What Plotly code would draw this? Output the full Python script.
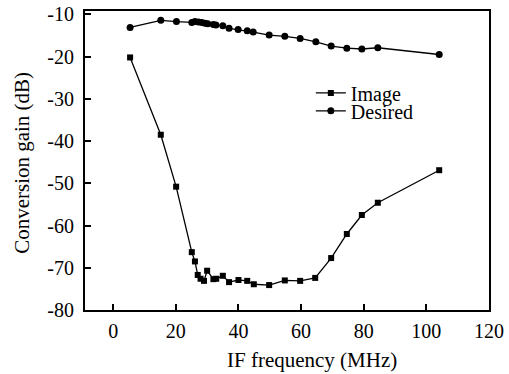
import plotly.graph_objects as go

# Data
image_freq = [5.4, 15.2, 20.1, 25.1, 26.1, 27.0, 27.9, 29.0, 30.0, 32.0, 32.9, 35.0, 37.0,
              40.0, 42.8, 44.9, 49.8, 54.8, 59.7, 64.5, 69.6, 74.6, 79.4, 84.5, 104.1]
image_gain = [-20.2, -38.5, -50.8, -66.3, -68.5, -71.7, -72.6, -73.1, -70.7, -72.7, -72.6, -71.9, -73.4,
              -72.9, -73.1, -73.9, -74.1, -73.0, -73.1, -72.4, -67.7, -62.0, -57.5, -54.6, -46.9]

desired_freq = [5.4, 15.2, 20.2, 25.1, 26.1, 27.2, 28.3, 29.3, 30.2, 32.0, 32.8, 35.0, 37.0,
                39.9, 42.8, 44.7, 49.8, 54.8, 59.7, 64.7, 69.6, 74.6, 79.4, 84.5, 104.1]
desired_gain = [-13.1, -11.4, -11.7, -11.9, -11.7, -11.8, -11.9, -12.1, -12.2, -12.4, -12.5, -12.7, -13.3,
                -13.6, -13.9, -14.2, -14.9, -15.2, -15.7, -16.5, -17.5, -18.0, -18.2, -17.9, -19.5]

x_ticks = [0, 20, 40, 60, 80, 100, 120]
y_ticks = [-80, -70, -60, -50, -40, -30, -20, -10]

FONT = "Liberation Serif"

fig = go.Figure()
fig.add_trace(go.Scatter(
    x=image_freq, y=image_gain, name="Image", mode="lines+markers",
    line=dict(color="black", width=1.3),
    marker=dict(symbol="square", size=6, color="black"),
    legend="legend",
))
fig.add_trace(go.Scatter(
    x=desired_freq, y=desired_gain, name="Desired", mode="lines+markers",
    line=dict(color="black", width=1.3),
    marker=dict(symbol="circle", size=7, color="black"),
    legend="legend2",
))

legend_common = dict(
    font=dict(family=FONT, size=20, color="black"),
    bgcolor="rgba(0,0,0,0)", borderwidth=0,
    xanchor="left", yanchor="middle",
)

axis_common = dict(
    showgrid=False, zeroline=False, automargin=False,
    showline=True, linecolor="black", linewidth=2, mirror=True,
    ticks="inside", ticklen=6, tickwidth=1.5, tickcolor="black",
    ticklabeloverflow="allow",
    tickfont=dict(family=FONT, size=20, color="black"),
)

fig.update_layout(
    width=509, height=374,
    margin=dict(l=85, r=20, t=11, b=64, autoexpand=False),
    paper_bgcolor="white", plot_bgcolor="white",
    font=dict(family=FONT, size=20, color="black"),
    showlegend=True,
    legend=dict(x=0.559, y=0.726, **legend_common),
    legend2=dict(x=0.559, y=0.666, **legend_common),
    xaxis=dict(range=[-9, 120], tickvals=x_ticks, ticktext=[str(v) for v in x_ticks],
               ticklabelstandoff=2, **axis_common),
    yaxis=dict(range=[-80, -9.2], tickvals=y_ticks, ticktext=[str(v) for v in y_ticks],
               ticklabelstandoff=5, **axis_common),
    annotations=[
        dict(text="IF frequency (MHz)", xref="paper", yref="paper",
             x=0.562, y=-0.168, xanchor="center", yanchor="middle",
             showarrow=False, font=dict(family=FONT, size=21, color="black")),
        dict(text="Conversion gain (dB)", xref="paper", yref="paper",
             x=-0.156, y=0.492, xanchor="center", yanchor="middle", textangle=-90,
             showarrow=False, font=dict(family=FONT, size=21, color="black")),
    ],
)

# remove the default 8px page margin so the figure fills the window exactly
fig.write_html("out.html", config={"displayModeBar": False},
               post_script="document.body.style.margin='0';")
